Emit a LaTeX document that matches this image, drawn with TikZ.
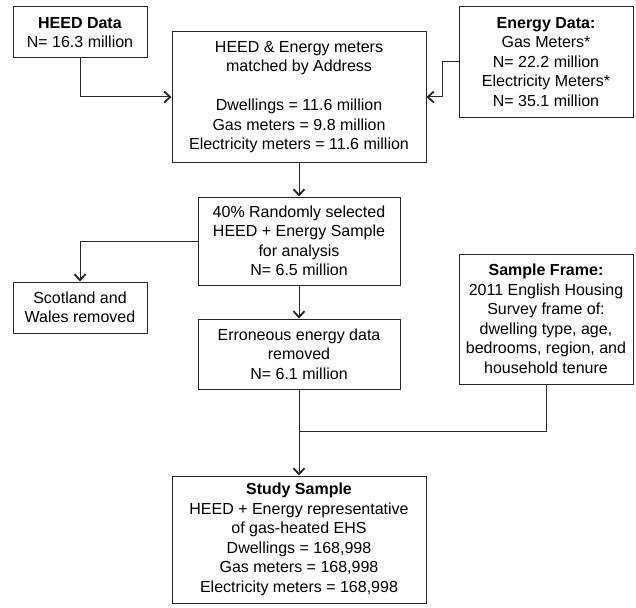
\documentclass[tikz,border=0pt]{standalone}
\usepackage{fontspec}
\setmainfont{Liberation Sans}
\usetikzlibrary{arrows.meta}
\tikzset{
  flowbox/.style={draw=black!85, line width=1pt, align=center, inner sep=0pt,
    font=\fontsize{16}{19.5}\selectfont},
  flowarrow/.style={draw=black!85, line width=1pt,
    -{Straight Barb[length=6pt,width=11pt,line width=1.8pt]}},
  flowline/.style={draw=black!85, line width=1pt}
}
\begin{document}
\begin{tikzpicture}[x=1pt,y=-1pt]
\useasboundingbox (0,0) rectangle (636,607);
\node [flowbox, minimum width=134pt, minimum height=51pt] (heed) at (80,32.5) {\textbf{HEED Data}\\N= 16.3 million};
\node [flowbox, minimum width=254pt, minimum height=130pt] (match) at (299,97) {HEED \& Energy meters\\matched by Address\\[19.5pt]Dwellings = 11.6 million\\Gas meters = 9.8 million\\Electricity meters = 11.6 million};
\node [flowbox, minimum width=174pt, minimum height=110pt] (energy) at (546,62) {\textbf{Energy Data:}\\Gas Meters*\\N= 22.2 million\\Electricity Meters*\\N= 35.1 million};
\node [flowbox, minimum width=202pt, minimum height=88pt] (random) at (299,241) {40\% Randomly selected\\HEED + Energy Sample\\for analysis\\N= 6.5 million};
\node [flowbox, minimum width=134pt, minimum height=51pt] (scot) at (80,307.5) {Scotland and\\Wales removed};
\node [flowbox, minimum width=202pt, minimum height=70pt] (err) at (299,354) {Erroneous energy data\\removed\\N= 6.1 million};
\node [flowbox, minimum width=174pt, minimum height=130pt] (frame) at (546,319) {\textbf{Sample Frame:}\\2011 English Housing\\Survey frame of:\\dwelling type, age,\\bedrooms, region, and\\household tenure};
\node [flowbox, minimum width=254pt, minimum height=127pt] (study) at (299,539.5) {\textbf{Study Sample}\\HEED + Energy representative\\of gas-heated EHS\\Dwellings = 168,998\\Gas meters = 168,998\\Electricity meters = 168,998};
\coordinate (join) at (299,431);
\draw [flowarrow] (heed.south) |- (match.west);
\draw [flowarrow] (energy.west) -- ++(-16,0) |- (match.east);
\draw [flowarrow] (match.south) -- (random.north);
\draw [flowarrow] (random.west) -| (scot.north);
\draw [flowarrow] (random.south) -- (err.north);
\draw [flowline] (frame.south) |- (join);
\draw [flowarrow] (err.south) -- (study.north);
\end{tikzpicture}
\end{document}
